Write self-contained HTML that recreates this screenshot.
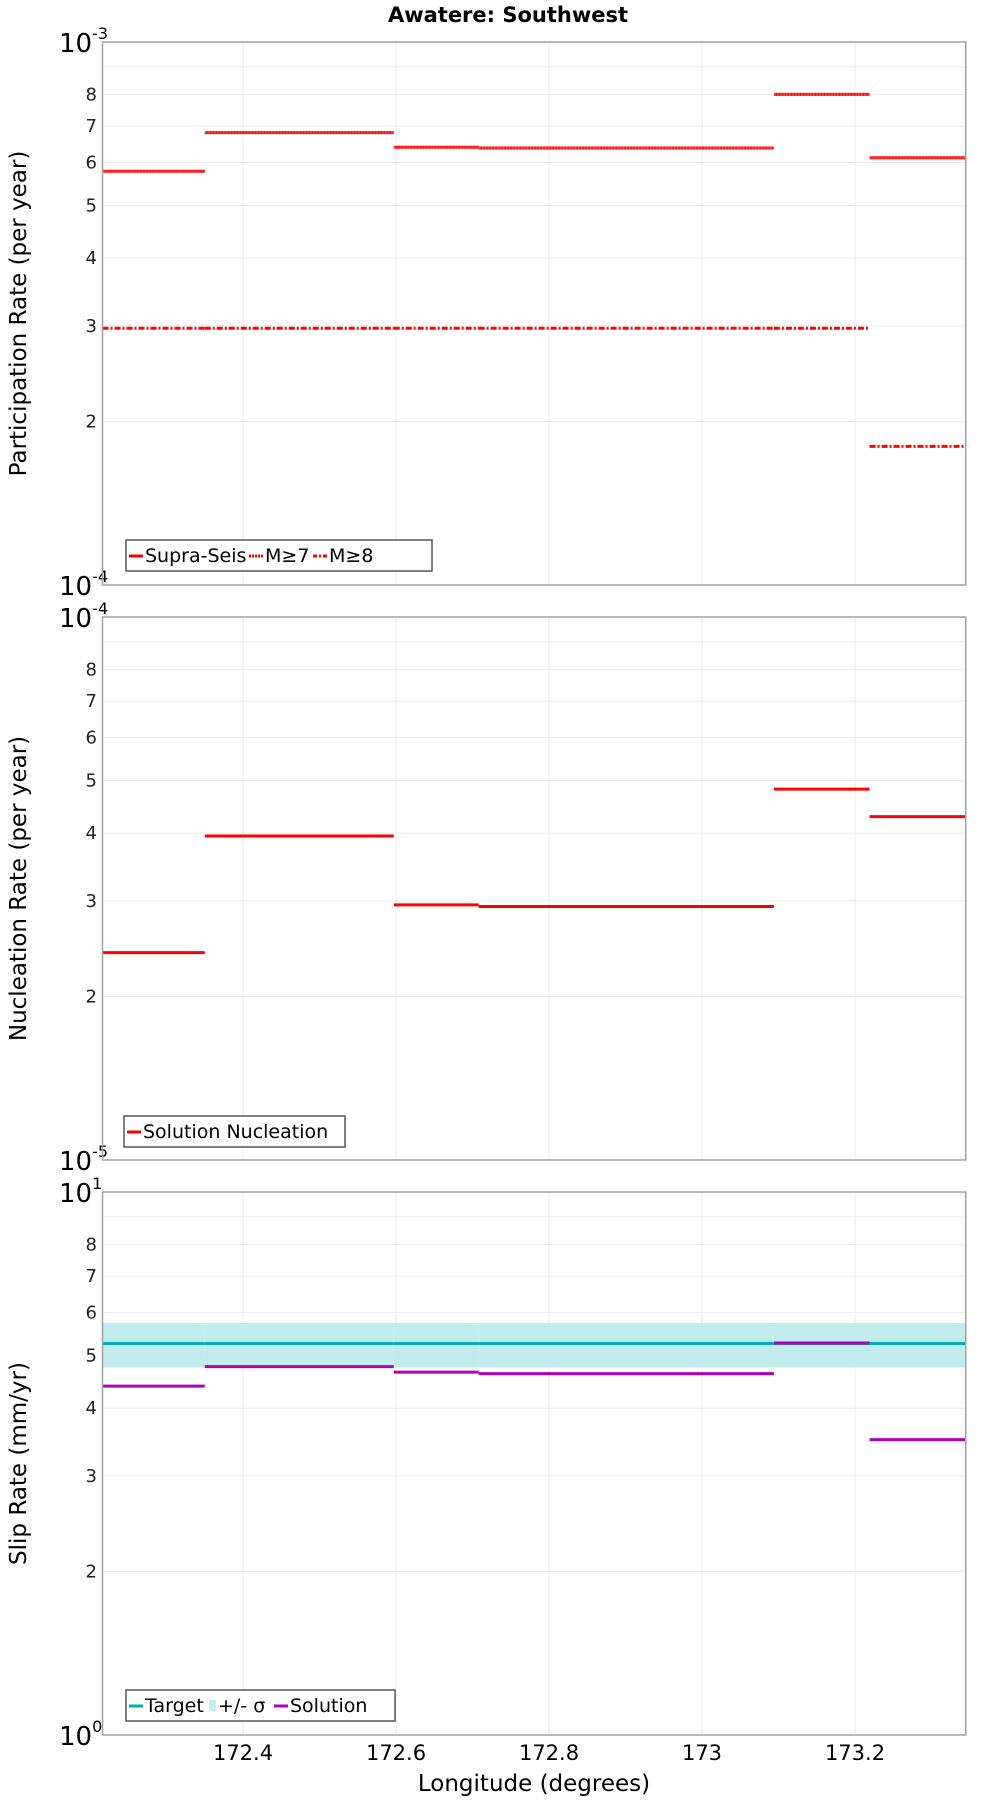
<!DOCTYPE html>
<html><head><meta charset="utf-8"><style>
html,body{margin:0;padding:0;background:#fff;}
svg text{font-family:"DejaVu Sans","Liberation Sans",sans-serif;}
</style></head><body>
<svg id="chart" width="1000" height="1800" viewBox="0 0 1000 1800" xmlns="http://www.w3.org/2000/svg">
<text x="508" y="22" text-anchor="middle" font-size="21" font-weight="bold">Awatere: Southwest</text>
</svg>
<script>
const xTicks = [172.4, 172.6, 172.8, 173.0, 173.2];
const xTickLabels = ["172.4", "172.6", "172.8", "173", "173.2"];
const segEdges = [172.2163, 172.350, 172.597, 172.708, 173.094, 173.219, 173.3447];
const supraSeis = [5.78e-4, 6.81e-4, 6.40e-4, 6.38e-4, 8.01e-4, 6.12e-4];
const m7 = [5.78e-4, 6.81e-4, 6.40e-4, 6.38e-4, 8.01e-4, 6.12e-4];
const m8 = [2.97e-4, 2.97e-4, 2.97e-4, 2.97e-4, 2.97e-4, 1.80e-4];
const nucleation = [2.41e-5, 3.95e-5, 2.95e-5, 2.93e-5, 4.82e-5, 4.29e-5];
const slipTarget = [5.26, 5.26, 5.26, 5.26, 5.26, 5.26];
const slipUpper = [5.74, 5.74, 5.74, 5.74, 5.74, 5.74];
const slipLower = [4.75, 4.75, 4.75, 4.75, 4.75, 4.75];
const slipSolution = [4.39, 4.77, 4.66, 4.63, 5.27, 3.50];

const NS = "http://www.w3.org/2000/svg";
const svg = document.getElementById('chart');
const L = 102.5, R = 965.7, H = 543;
const xMin = 172.2163, xMax = 173.3447;
function xs(v){ return L + (v - xMin) / (xMax - xMin) * (R - L); }
function mk(tag, attrs, parent){
  const e = document.createElementNS(NS, tag);
  for (const k in attrs) e.setAttribute(k, attrs[k]);
  (parent || svg).appendChild(e);
  return e;
}
function panel(top, expTop, yTitle, name){
  const g = mk('g', {});
  
  
  const ys = v => top + (expTop - Math.log10(v)) * H;
  for (let m = 2; m <= 9; m++) {
    const y = ys(m * Math.pow(10, expTop - 1));
    const gl = mk('line', {x1: L, x2: R, y1: y, y2: y, stroke: '#ebebeb', 'stroke-width': 1}, g);
    
    
    if (m <= 8) {
      const t = mk('text', {x: 97, y: y + 6, 'text-anchor': 'end', 'font-size': 18, fill: '#222'}, g);
      t.textContent = m;
      
      
    }
  }
  xTicks.forEach(v => {
    const gl = mk('line', {x1: xs(v), x2: xs(v), y1: top, y2: top + H, stroke: '#ebebeb', 'stroke-width': 1}, g);
    
    
  });
  [[expTop, top], [expTop - 1, top + H]].forEach(([e, y]) => {
    const t = mk('text', {x: 59, y: y + 10, 'font-size': 26, fill: '#000'}, g);
    t.textContent = '10';
    
    
    const s = mk('tspan', {dy: -13, 'font-size': 16}, t);
    s.textContent = String(e);
  });
  const yt = mk('text', {x: 0, y: 0, 'text-anchor': 'middle', 'font-size': 23, transform: `translate(26 ${top + H / 2}) rotate(-90)`}, g);
  yt.textContent = yTitle;
  
  
  return {g, ys};
}
function steps(p, vals, color, dash, name, w){
  vals.forEach((v, i) => {
    const a = {x1: xs(segEdges[i]), x2: xs(segEdges[i + 1]), y1: p.ys(v), y2: p.ys(v), stroke: color, 'stroke-width': w || 3};
    if (dash) a['stroke-dasharray'] = dash;
    const l = mk('line', a, p.g);
    
    
  });
}
function frame(p, top){
  const r = mk('rect', {x: L, y: top, width: R - L, height: H, fill: 'none', stroke: '#a0a0a0', 'stroke-width': 1.5}, p.g);
  
  
}
function legend(p, x, y, w, items){
  const lg = mk('g', {}, p.g);
  
  
  mk('rect', {x: x, y: y, width: w, height: 31, fill: '#fff', stroke: '#555', 'stroke-width': 1.5}, lg);
  let cx = x + 3;
  items.forEach(it => {
    const e = mk('g', {}, lg);
    
    
    if (it.band) mk('rect', {x: cx, y: y + 10, width: 7, height: 11, fill: it.color}, e);
    else {
      const a = {x1: cx, x2: cx + 14, y1: y + 16, y2: y + 16, stroke: it.color, 'stroke-width': 3};
      if (it.dash) a['stroke-dasharray'] = it.dash;
      mk('line', a, e);
    }
    cx += it.band ? 9 : 16;
    const t = mk('text', {x: cx, y: y + 22, 'font-size': 19}, e);
    t.textContent = it.label;
    cx += it.tw;
  });
}
const p1 = panel(42, -3, 'Participation Rate (per year)', 'participation-panel');
steps(p1, supraSeis, '#ff0000', null, 'supra-seis-segment');
steps(p1, m7, '#ff4040', '2,1', 'm7-segment', 2);
steps(p1, m8, '#ff0000', '6,2,2,2', 'm8-segment');
frame(p1, 42);
legend(p1, 126, 540, 306, [
  {color: '#ff0000', label: 'Supra-Seis', tw: 104},
  {color: '#ff0000', dash: '2,1', label: 'M≥7', tw: 48},
  {color: '#ff0000', dash: '4,2,2,2', label: 'M≥8', tw: 45}]);
const p2 = panel(617, -4, 'Nucleation Rate (per year)', 'nucleation-panel');
steps(p2, nucleation, '#ff0000', null, 'nucleation-segment');
frame(p2, 617);
legend(p2, 124, 1116, 221, [{color: '#ff0000', label: 'Solution Nucleation', tw: 198}]);
const p3 = panel(1192, 1, 'Slip Rate (mm/yr)', 'slip-rate-panel');
slipUpper.forEach((v, i) => {
  const r = mk('rect', {x: xs(segEdges[i]), y: p3.ys(v), width: xs(segEdges[i + 1]) - xs(segEdges[i]), height: p3.ys(slipLower[i]) - p3.ys(v), fill: '#c2ecec'}, p3.g);
  
  
});
steps(p3, slipTarget, '#00b0b0', null, 'target-segment');
steps(p3, slipSolution, '#b400b4', null, 'solution-segment');
frame(p3, 1192);
legend(p3, 126, 1690, 269, [
  {color: '#00b0b0', label: 'Target', tw: 64},
  {color: '#c2ecec', band: true, label: '+/- σ', tw: 56},
  {color: '#b400b4', label: 'Solution', tw: 84}]);
xTicks.forEach((v, i) => {
  const t = mk('text', {x: xs(v), y: 1760, 'text-anchor': 'middle', 'font-size': 21});
  t.textContent = xTickLabels[i];
  
  
});
const xt = mk('text', {x: 534, y: 1791, 'text-anchor': 'middle', 'font-size': 23});
xt.textContent = 'Longitude (degrees)';


</script>
</body></html>
